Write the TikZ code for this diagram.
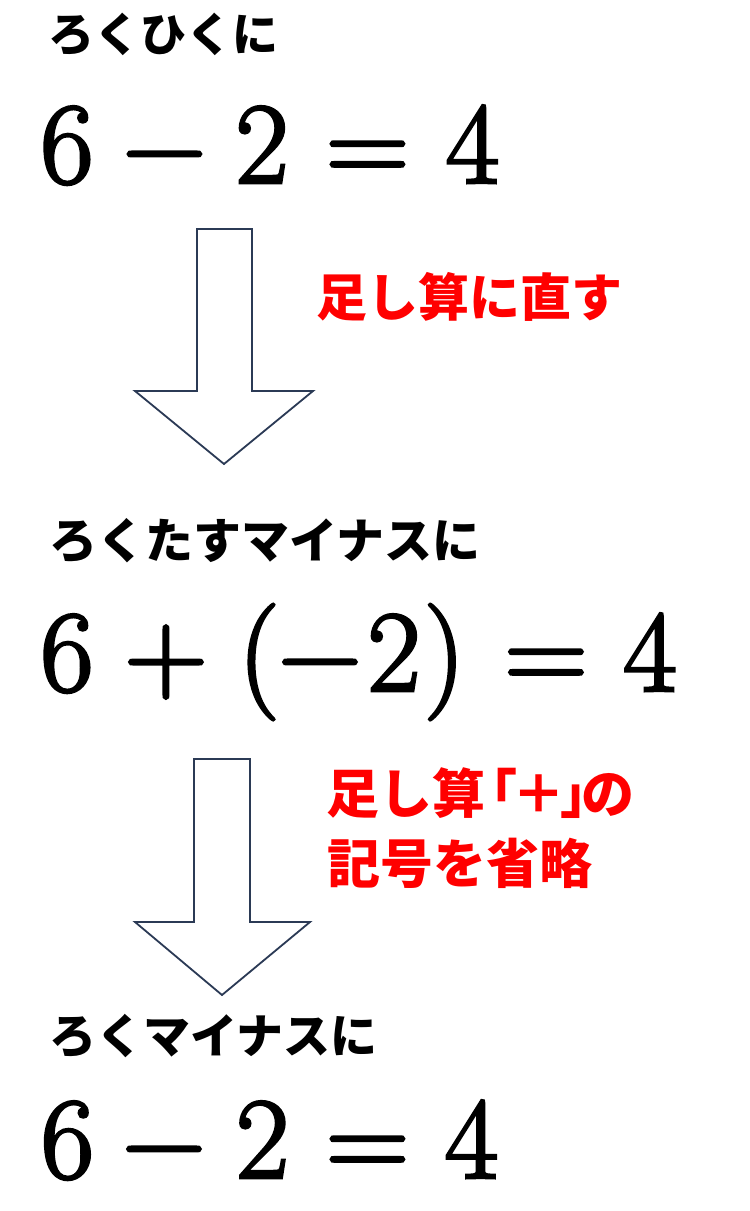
\documentclass[tikz,border=0pt]{standalone}
\usepackage{fontspec}
\newfontfamily\jp{Noto Sans CJK JP}
\newfontfamily\eqserif{Latin Modern Roman}[FakeBold=2.5]
\definecolor{arrowline}{HTML}{2B3A55}
\definecolor{redtext}{HTML}{FF0000}
\begin{document}
\begin{tikzpicture}[x=1bp,y=-1bp,
  eqc/.style={font=\eqserif\fontsize{116bp}{120bp}\selectfont, inner sep=0pt, anchor=base},
  kana/.style={font=\jp\bfseries\fontsize{#1bp}{#1bp}\selectfont, inner sep=0pt, anchor=base west},
  redlabel/.style={font=\jp\bfseries\fontsize{#1bp}{#1bp}\selectfont, text=redtext, inner sep=0pt, anchor=base west},
  blockarrow/.style={draw=arrowline, line width=1.8bp, fill=white, line join=miter}]
\useasboundingbox[fill=white] (0,0) rectangle (750,1211);

% first equation
\node[kana=46] (t1) at (48,51) {ろくひくに};
\node[eqc] (a6) at (67,183) {6};
\node[eqc] (am) at (164.5,183) {−};
\node[eqc] (a2) at (262,183) {2};
\node[eqc] (ae) at (367.5,183) {=};
\node[eqc] (a4) at (472.5,183) {4};

% arrow 1
\draw[blockarrow] (197,229) -- (252,229) -- (252,391) -- (313,391) -- (224,464) -- (135,391) -- (197,391) -- cycle;
\node[redlabel=51] (r1) at (316,316) {足し算に直す};

% second equation
\node[kana=48] (t2) at (49,558) {ろくたすマイナスに};
\node[eqc] (b6) at (67,691) {6};
\node[eqc] (bp) at (166,691) {+};
\node[eqc] (bl) at (259,691) {(};
\node[eqc] (bm) at (320,691) {−};
\node[eqc] (b2) at (394,691) {2};
\node[eqc] (br) at (444.5,691) {)};
\node[eqc] (be) at (546,691) {=};
\node[eqc] (b4) at (650,691) {4};

% arrow 2
\draw[blockarrow] (194,759) -- (250,759) -- (250,922) -- (310,922) -- (222,995) -- (135,922) -- (194,922) -- cycle;
\node[redlabel=53] (r2a) at (326,813) {足し算\kern-0.4em「\kern-0.08em＋\kern-0.1em」\kern-0.6emの};
\node[redlabel=53] (r2b) at (327,883) {記号を省略};

% third equation
\node[kana=47] (t3) at (49,1053) {ろくマイナスに};
\node[eqc] (c6) at (67.5,1178) {6};
\node[eqc] (cm) at (164,1178) {−};
\node[eqc] (c2) at (262.5,1178) {2};
\node[eqc] (ce) at (367.5,1178) {=};
\node[eqc] (c4) at (471.5,1178) {4};
\end{tikzpicture}
\end{document}
